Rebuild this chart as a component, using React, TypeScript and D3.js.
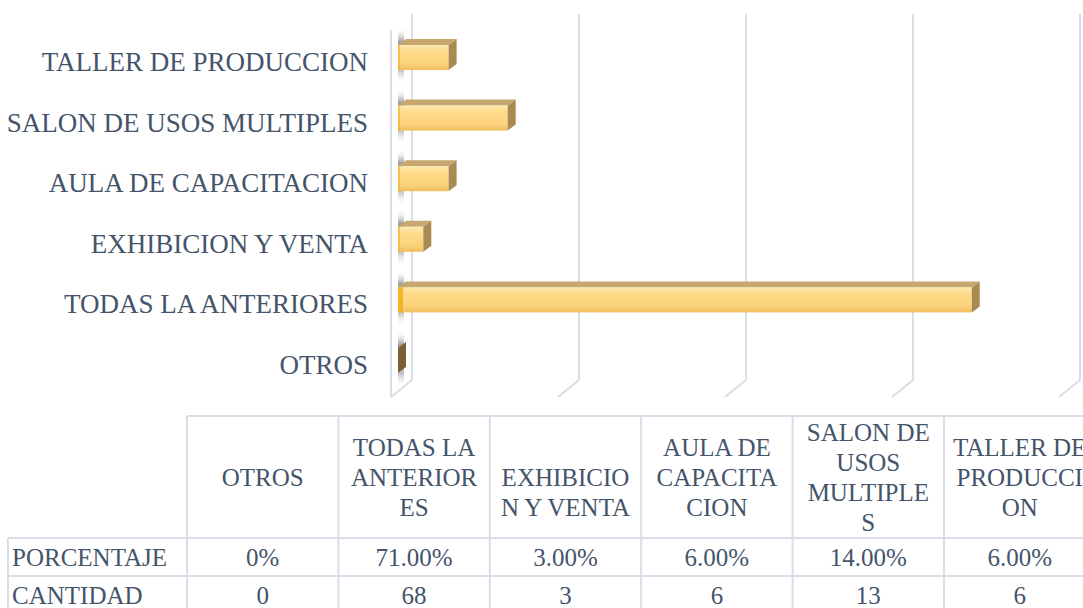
import { scaleBand, scaleLinear } from 'd3'

const W = 1083
const H = 608

// chart order, top to bottom
const CATS = [
  'TALLER DE PRODUCCION',
  'SALON DE USOS MULTIPLES',
  'AULA DE CAPACITACION',
  'EXHIBICION Y VENTA',
  'TODAS LA ANTERIORES',
  'OTROS',
]
const CANTIDAD = [6, 13, 6, 3, 68, 0]

// table order, left to right
const TABLE_CATS = ['OTROS', 'TODAS LA ANTERIORES', 'EXHIBICION Y VENTA', 'AULA DE CAPACITACION', 'SALON DE USOS MULTIPLES', 'TALLER DE PRODUCCION']
const TABLE_HEAD = [
  ['OTROS'],
  ['TODAS LA', 'ANTERIOR', 'ES'],
  ['', 'EXHIBICIO', 'N Y VENTA'],
  ['AULA DE', 'CAPACITA', 'CION'],
  ['SALON DE', 'USOS', 'MULTIPLE', 'S'],
  ['TALLER DE', 'PRODUCCI', 'ON'],
]
const PORCENTAJE = ['0%', '71.00%', '3.00%', '6.00%', '14.00%', '6.00%']
const CANT_TXT = ['0', '68', '3', '6', '13', '6']
const TICKS = [0, 20, 40, 60, 80]

const FONT = '"Liberation Serif", "Times New Roman", serif'
const TXT = '#44546a'
const GRID = '#d9dde8'

export default function App() {
  const y = scaleBand().domain(CATS).range([31.7, 395.3])
  const xBar = scaleLinear().domain([0, 80]).range([398, 1073])
  const xGrid = scaleLinear().domain([0, 80]).range([412, 1080])
  const col = scaleBand().domain(TABLE_CATS).range([187, 187 + 6 * 151.4])

  const bh = 25
  const dx = 8
  const dy = 6

  const tTop = 416
  const tHead = 538
  const tRow1 = 576
  const tRow2 = 614

  return (
    <div style={{ position: 'absolute', left: 0, top: 0, width: W, height: H, background: '#fff' }}>
      <svg width={W} height={H} style={{ display: 'block' }} fontFamily={FONT}>
        <defs>
          <linearGradient id="front" x1="0" y1="0" x2="0" y2="1">
            <stop offset="0" stopColor="#fde9b0" />
            <stop offset="0.25" stopColor="#fedb8a" />
            <stop offset="0.75" stopColor="#fbd27a" />
            <stop offset="1" stopColor="#eebd5e" />
          </linearGradient>
          <linearGradient id="wall" x1="0" y1="0" x2="0" y2="1">
            <stop offset="0" stopColor="#ffffff" stopOpacity="0" />
            <stop offset="0.25" stopColor="#8c8c8c" stopOpacity="0.85" />
            <stop offset="0.75" stopColor="#a8a8a8" stopOpacity="0.7" />
            <stop offset="1" stopColor="#ffffff" stopOpacity="0" />
          </linearGradient>
        </defs>

        {/* walls and gridlines */}
        <line x1={391} x2={391} y1={30} y2={397} stroke={GRID} strokeWidth={2} />
        {TICKS.map((t) => (
          <g key={t}>
            <line x1={xGrid(t)} x2={xGrid(t)} y1={14} y2={380} stroke={GRID} strokeWidth={2} />
            <line x1={xGrid(t)} x2={xGrid(t) - 21} y1={380} y2={397} stroke={GRID} strokeWidth={2} />
          </g>
        ))}

        {/* side-wall shadow strips */}
        {CATS.map((c) => (
          <rect key={c} x={398} y={(y(c) ?? 0) - 4} width={6} height={y.bandwidth() - 4} fill="url(#wall)" />
        ))}

        {/* bars */}
        {CATS.map((c, i) => {
          const cy = (y(c) ?? 0) + y.bandwidth() / 2 - 4.5
          const x0 = xBar(0)
          const x1 = xBar(CANTIDAD[i])
          const top = cy - bh / 2
          const bot = cy + bh / 2
          const sideFill = CANTIDAD[i] === 0 ? '#7a6033' : '#a98a52'
          return (
            <g key={c}>
              {CANTIDAD[i] > 0 && (
                <>
                  <polygon
                    points={`${x0},${top} ${x0 + dx},${top - dy} ${x1 + dx},${top - dy} ${x1},${top}`}
                    fill="#c8a76f"
                  />
                  <rect x={x0} y={top} width={x1 - x0} height={bh} fill="url(#front)" />
                  <rect x={x0} y={top} width={i === 4 ? 5 : 2} height={bh} fill="#efb020" opacity={i === 4 ? 0.9 : 0.6} />
                </>
              )}
              <polygon
                points={`${x1},${top} ${x1 + dx},${top - dy} ${x1 + dx},${bot - dy} ${x1},${bot}`}
                fill={sideFill}
              />
            </g>
          )
        })}

        {/* category labels */}
        {CATS.map((c) => (
          <text
            key={c}
            x={368}
            y={(y(c) ?? 0) + y.bandwidth() / 2}
            textAnchor="end"
            dominantBaseline="central"
            fontSize={27}
            fill={TXT}
          >
            {c}
          </text>
        ))}

        {/* data table */}
        <g stroke={GRID} strokeWidth={2}>
          <line x1={187} x2={W} y1={tTop} y2={tTop} />
          <line x1={8} x2={W} y1={tHead} y2={tHead} />
          <line x1={8} x2={W} y1={tRow1} y2={tRow1} />
          <line x1={8} x2={8} y1={tHead} y2={H} />
          <line x1={187} x2={187} y1={tTop} y2={H} />
          {TABLE_CATS.map((c) => (
            <line key={c} x1={(col(c) ?? 0) + col.bandwidth()} x2={(col(c) ?? 0) + col.bandwidth()} y1={tTop} y2={H} />
          ))}
        </g>

        {TABLE_CATS.map((c, i) => {
          const cx = (col(c) ?? 0) + col.bandwidth() / 2
          const lines = TABLE_HEAD[i]
          const mid = (tTop + tHead) / 2
          return (
            <g key={c} fontSize={25} fill={TXT} textAnchor="middle">
              {lines.map((l, j) => (
                <text key={j} x={cx} y={mid + (j - (lines.length - 1) / 2) * 30} dominantBaseline="central">
                  {l}
                </text>
              ))}
              <text x={cx} y={(tHead + tRow1) / 2} dominantBaseline="central">
                {PORCENTAJE[i]}
              </text>
              <text x={cx} y={(tRow1 + tRow2) / 2} dominantBaseline="central">
                {CANT_TXT[i]}
              </text>
            </g>
          )
        })}
        <text x={12} y={(tHead + tRow1) / 2} dominantBaseline="central" fontSize={25} fill={TXT}>
          PORCENTAJE
        </text>
        <text x={12} y={(tRow1 + tRow2) / 2} dominantBaseline="central" fontSize={25} fill={TXT}>
          CANTIDAD
        </text>
      </svg>
    </div>
  )
}
